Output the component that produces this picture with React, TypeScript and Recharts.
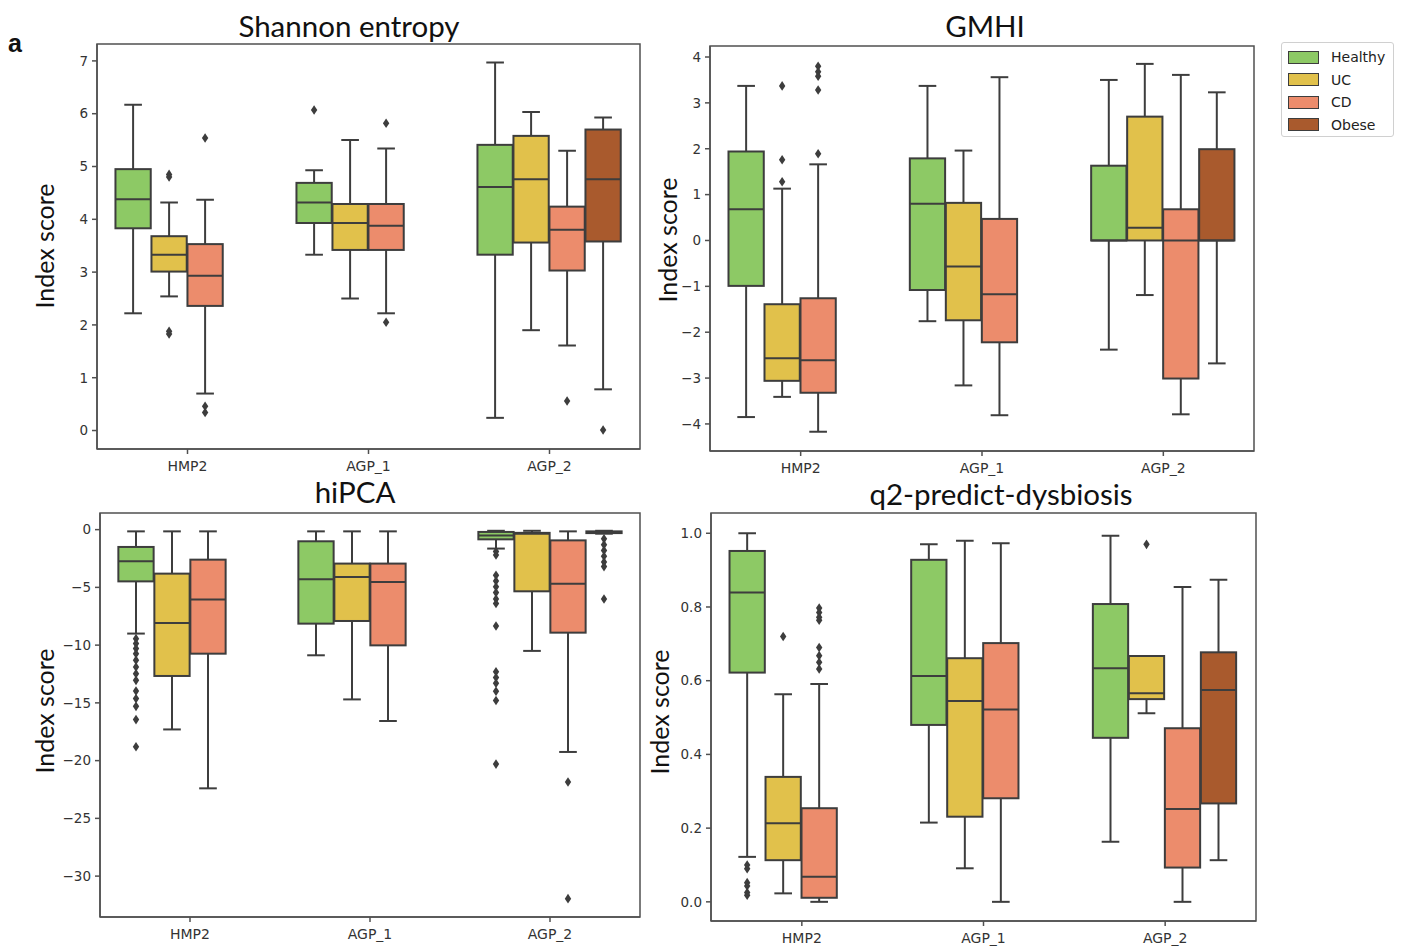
import React from 'react';
import { ComposedChart, Bar, XAxis, YAxis, ReferenceArea } from 'recharts';

const categories = ['HMP2', 'AGP_1', 'AGP_2'];
const groups = ['Healthy', 'UC', 'CD', 'Obese'];
const groupColors = ['#8dc965', '#e1c14b', '#ec8c6c', '#a95a2d'];

// each box: [lower whisker, q1, median, q3, upper whisker], null = group not present
type Five = number[] | null;

// Shannon entropy
const shannonHealthy: Five[] = [[2.22, 3.83, 4.38, 4.95, 6.17], [3.33, 3.93, 4.32, 4.69, 4.93], [0.24, 3.33, 4.61, 5.41, 6.97]];
const shannonUC: Five[] = [[2.54, 3.01, 3.33, 3.68, 4.32], [2.5, 3.42, 3.93, 4.29, 5.5], [1.9, 3.56, 4.76, 5.58, 6.03]];
const shannonCD: Five[] = [[0.7, 2.36, 2.93, 3.53, 4.37], [2.22, 3.42, 3.88, 4.29, 5.34], [1.61, 3.03, 3.8, 4.24, 5.3]];
const shannonObese: Five[] = [null, null, [0.78, 3.58, 4.76, 5.7, 5.93]];
const shannonFliers = [
  [[], [6.07], []],
  [[4.85, 4.8, 1.88, 1.83], [], []],
  [[5.54, 0.46, 0.34], [5.82, 2.05], [0.56]],
  [[], [], [0.01]],
];
const shannonTicks = [0, 1, 2, 3, 4, 5, 6, 7];

// GMHI
const gmhiHealthy: Five[] = [[-3.85, -0.99, 0.68, 1.94, 3.37], [-1.76, -1.08, 0.8, 1.79, 3.37], [-2.38, 0.0, 0.0, 1.63, 3.5]];
const gmhiUC: Five[] = [[-3.41, -3.06, -2.57, -1.39, 1.13], [-3.16, -1.74, -0.57, 0.82, 1.96], [-1.19, 0.0, 0.28, 2.7, 3.85]];
const gmhiCD: Five[] = [[-4.17, -3.32, -2.61, -1.26, 1.66], [-3.81, -2.22, -1.17, 0.47, 3.56], [-3.79, -3.01, 0.0, 0.68, 3.61]];
const gmhiObese: Five[] = [null, null, [-2.68, 0.0, 0.0, 1.99, 3.23]];
const gmhiFliers = [
  [[], [], []],
  [[3.37, 1.76, 1.28], [], []],
  [[3.8, 3.68, 3.58, 3.28, 1.89], [], []],
  [[], [], []],
];
const gmhiTicks = [-4, -3, -2, -1, 0, 1, 2, 3, 4];

// hiPCA
const hipcaHealthy: Five[] = [[-9.0, -4.48, -2.74, -1.5, -0.15], [-10.88, -8.14, -4.3, -1.01, -0.15], [-1.64, -0.84, -0.5, -0.2, -0.1]];
const hipcaUC: Five[] = [[-17.3, -12.67, -8.08, -3.81, -0.15], [-14.7, -7.91, -4.1, -2.94, -0.15], [-10.5, -5.34, -0.35, -0.28, -0.1]];
const hipcaCD: Five[] = [[-22.4, -10.74, -6.06, -2.6, -0.15], [-16.57, -10.02, -4.53, -2.94, -0.15], [-19.25, -8.92, -4.68, -0.93, -0.15]];
const hipcaObese: Five[] = [null, null, [-0.35, -0.3, -0.22, -0.15, -0.1]];
const hipcaFliers = [
  [
    [-9.44, -9.87, -10.3, -10.74, -11.3, -11.9, -12.47, -13.05, -13.97, -14.63, -15.3, -16.45, -18.8],
    [],
    [-1.9, -2.2, -3.96, -4.45, -4.95, -5.45, -6.0, -6.4, -8.35, -12.3, -12.8, -13.3, -14.0, -14.8, -20.3],
  ],
  [[], [], []],
  [[], [], [-21.85, -31.95]],
  [[], [], [-0.8, -1.3, -1.8, -2.3, -2.8, -3.2, -6.0]],
];
const hipcaTicks = [-30, -25, -20, -15, -10, -5, 0];

// q2-predict-dysbiosis
const q2Healthy: Five[] = [[0.122, 0.622, 0.839, 0.952, 1.0], [0.215, 0.48, 0.613, 0.928, 0.97], [0.163, 0.445, 0.634, 0.808, 0.993]];
const q2UC: Five[] = [[0.023, 0.113, 0.213, 0.339, 0.563], [0.091, 0.231, 0.545, 0.661, 0.98], [0.512, 0.55, 0.566, 0.667, 0.667]];
const q2CD: Five[] = [[0.0, 0.011, 0.068, 0.254, 0.591], [0.0, 0.281, 0.522, 0.702, 0.973], [0.0, 0.093, 0.252, 0.471, 0.854]];
const q2Obese: Five[] = [null, null, [0.113, 0.267, 0.575, 0.677, 0.874]];
const q2Fliers = [
  [[0.1, 0.09, 0.052, 0.043, 0.025, 0.018], [], []],
  [[0.72], [], [0.97]],
  [[0.797, 0.785, 0.772, 0.764, 0.69, 0.668, 0.65, 0.632], [], []],
  [[], [], []],
];
const q2Ticks = [0, 0.2, 0.4, 0.6, 0.8, 1.0];

const lineColor = '#3d3d3d';
const frameColor = '#505050';
const tickFont = '"DejaVu Sans", sans-serif';
const labelFont = 'Lato, "Open Sans", sans-serif';

const buildRows = (boxes: Five[][], fliers: number[][][]) =>
  categories.map((cat, i) => {
    const row: any = { cat };
    groups.forEach((g, j) => {
      const b = boxes[j][i];
      if (!b) {
        row[g] = null;
        return;
      }
      const out = fliers[j][i];
      row[g] = { stats: b, out, range: [Math.min(b[0], ...out), Math.max(b[4], ...out)] };
    });
    return row;
  });

const BoxGlyph = (props: any) => {
  const { x, y, width, height, payload, group, color } = props;
  const item = payload && payload[group];
  if (!item) return null;
  const [lo, hi] = item.range;
  const top = Math.min(y, y + height);
  const bottom = Math.max(y, y + height);
  // linear scale, so any value can be placed from the bar's own extent
  const px = (v: number) => (hi === lo ? top : bottom - ((v - lo) / (hi - lo)) * (bottom - top));
  const cx = x + width / 2;
  const bw = width * 0.98;
  const cap = bw / 2;
  const [w0, q1, med, q3, w1] = item.stats;
  return (
    <g>
      <line x1={cx} x2={cx} y1={px(w1)} y2={px(q3)} stroke={lineColor} strokeWidth={2} />
      <line x1={cx} x2={cx} y1={px(q1)} y2={px(w0)} stroke={lineColor} strokeWidth={2} />
      <line x1={cx - cap / 2} x2={cx + cap / 2} y1={px(w1)} y2={px(w1)} stroke={lineColor} strokeWidth={2} />
      <line x1={cx - cap / 2} x2={cx + cap / 2} y1={px(w0)} y2={px(w0)} stroke={lineColor} strokeWidth={2} />
      <rect x={cx - bw / 2} y={px(q3)} width={bw} height={px(q1) - px(q3)} fill={color} stroke={lineColor} strokeWidth={2} />
      <line x1={cx - bw / 2} x2={cx + bw / 2} y1={px(med)} y2={px(med)} stroke={lineColor} strokeWidth={2} />
      {item.out.map((v: number, k: number) => {
        const py = px(v);
        return (
          <polygon
            key={k}
            points={`${cx},${py - 4.8} ${cx + 3.2},${py} ${cx},${py + 4.8} ${cx - 3.2},${py}`}
            fill={lineColor}
          />
        );
      })}
    </g>
  );
};

const fmt = (digits: number) => (v: number) => {
  const s = v.toFixed(digits);
  return s.replace('-', '\u2212');
};

type PanelProps = {
  frame: { x: number; y: number; w: number; h: number };
  domain: [number, number];
  ticks: number[];
  digits: number;
  boxes: Five[][];
  fliers: number[][][];
};

const Panel = ({ frame, domain, ticks, digits, boxes, fliers }: PanelProps) => {
  const rows = buildRows(boxes, fliers);
  return (
    <div style={{ position: 'absolute', left: frame.x - 60, top: frame.y - 10 }}>
      <ComposedChart
        width={frame.w + 70}
        height={frame.h + 40}
        data={rows}
        margin={{ top: 10, right: 10, left: 20, bottom: 0 }}
        barCategoryGap="10%"
        barGap={0}
      >
        <XAxis
          dataKey="cat"
          height={30}
          tickSize={5}
          tickMargin={7}
          axisLine={{ stroke: frameColor, strokeWidth: 1.5 }}
          tickLine={{ stroke: frameColor, strokeWidth: 1.5 }}
          tick={{ fill: '#333', fontSize: 14, fontFamily: tickFont }}
        />
        <YAxis
          type="number"
          domain={domain}
          allowDataOverflow
          ticks={ticks}
          interval={0}
          width={40}
          tickSize={5}
          tickMargin={4}
          tickFormatter={fmt(digits)}
          axisLine={{ stroke: frameColor, strokeWidth: 1.5 }}
          tickLine={{ stroke: frameColor, strokeWidth: 1.5 }}
          tick={{ fill: '#333', fontSize: 13.5, fontFamily: tickFont }}
        />
        <ReferenceArea
          y1={domain[0]}
          y2={domain[1]}
          fill="none"
          stroke={frameColor}
          strokeWidth={1.5}
          ifOverflow="visible"
        />
        {groups.map((g, j) => (
          <Bar
            key={g}
            dataKey={(row: any) => (row[g] ? row[g].range : null)}
            isAnimationActive={false}
            shape={(p: any) => <BoxGlyph {...p} group={g} color={groupColors[j]} />}
          />
        ))}
      </ComposedChart>
    </div>
  );
};

const App = () => (
  <div style={{ position: 'absolute', left: 0, top: 0, width: 1405, height: 947, background: '#fff' }}>
    <Panel
      frame={{ x: 97, y: 44, w: 543, h: 405 }}
      domain={[-0.35, 7.32]}
      ticks={shannonTicks}
      digits={0}
      boxes={[shannonHealthy, shannonUC, shannonCD, shannonObese]}
      fliers={shannonFliers}
    />
    <Panel
      frame={{ x: 710, y: 46, w: 544, h: 405 }}
      domain={[-4.59, 4.24]}
      ticks={gmhiTicks}
      digits={0}
      boxes={[gmhiHealthy, gmhiUC, gmhiCD, gmhiObese]}
      fliers={gmhiFliers}
    />
    <Panel
      frame={{ x: 100, y: 513, w: 540, h: 404 }}
      domain={[-33.54, 1.44]}
      ticks={hipcaTicks}
      digits={0}
      boxes={[hipcaHealthy, hipcaUC, hipcaCD, hipcaObese]}
      fliers={hipcaFliers}
    />
    <Panel
      frame={{ x: 711, y: 513, w: 545, h: 408 }}
      domain={[-0.052, 1.055]}
      ticks={q2Ticks}
      digits={1}
      boxes={[q2Healthy, q2UC, q2CD, q2Obese]}
      fliers={q2Fliers}
    />
    <svg width={1405} height={947} style={{ position: 'absolute', left: 0, top: 0, pointerEvents: 'none' }}>
      <text x={8} y={52} fontFamily='"Liberation Sans", sans-serif' fontWeight="bold" fontSize={25} fill="#111">a</text>
      <g fontFamily={labelFont} fontSize={29.5} fill="#111" textAnchor="middle">
        <text x={349} y={37}>Shannon entropy</text>
        <text x={985} y={37}>GMHI</text>
        <text x={355} y={503}>hiPCA</text>
        <text x={1001} y={505}>q2-predict-dysbiosis</text>
      </g>
      <g fontFamily={labelFont} fontSize={25} fill="#111" textAnchor="middle">
        <text transform="translate(54,246) rotate(-90)">Index score</text>
        <text transform="translate(677,240) rotate(-90)">Index score</text>
        <text transform="translate(54,711) rotate(-90)">Index score</text>
        <text transform="translate(669,712) rotate(-90)">Index score</text>
      </g>
    </svg>
    <div
      style={{
        position: 'absolute',
        left: 1281,
        top: 42,
        width: 111,
        height: 93,
        border: '1px solid #d0d0d0',
        borderRadius: 3,
        background: '#fff',
        fontFamily: tickFont,
        fontSize: 14,
        color: '#222',
      }}
    >
      {groups.map((g, j) => (
        <div key={g} style={{ position: 'absolute', left: 6, top: 6 + j * 22.5, height: 16, display: 'flex', alignItems: 'center' }}>
          <span style={{ display: 'inline-block', width: 29, height: 11, background: groupColors[j], border: `1px solid ${lineColor}`, marginRight: 12 }} />
          <span>{g}</span>
        </div>
      ))}
    </div>
  </div>
);

export default App;
